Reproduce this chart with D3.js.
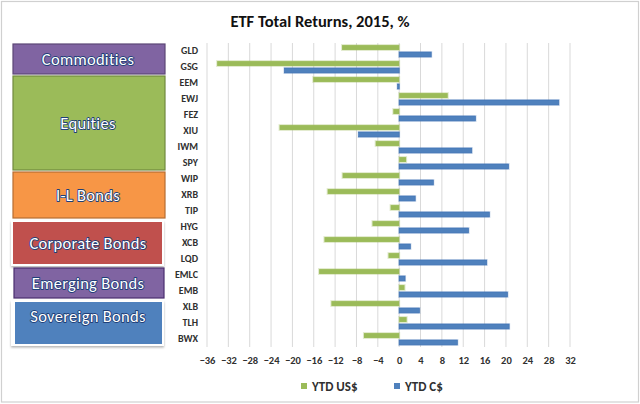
<!DOCTYPE html>
<html>
<head>
<meta charset="utf-8">
<script src="https://cdn.jsdelivr.net/npm/d3@7"></script>
<style>
  body { margin: 0; background: #fff; }
  svg { display: block; font-family: Carlito, Lato, "Open Sans", sans-serif; }
</style>
</head>
<body>
<div id="chart"></div>
<script>
// tickers top to bottom
var tickers = ['GLD','GSG','EEM','EWJ','FEZ','XIU','IWM','SPY','WIP','XRB','TIP',
               'HYG','XCB','LQD','EMLC','EMB','XLB','TLH','BWX'];
var ytdUS = [-10.7, -34.1, -16.1, 9.1, -1.1, -22.4, -4.4, 1.3, -10.6, -13.4, -1.6,
             -5.0, -14.0, -2.0, -15.0, 1.0, -12.7, 1.4, -6.6];
var ytdCA = [6.0, -21.5, -0.3, 29.9, 14.3, -7.6, 13.6, 20.5, 6.4, 3.0, 16.9,
             13.0, 2.1, 16.4, 1.1, 20.3, 3.8, 20.6, 10.9];
var seriesNames = ['YTD US$', 'YTD C$'];
var xTicks = d3.range(-36, 33, 4);

// asset class boxes on the left
var groupNames = ['Commodities','Equities','I-L Bonds','Corporate Bonds','Emerging Bonds','Sovereign Bonds'];
var groupFirst = ['GLD','EEM','WIP','HYG','EMLC','XLB'];
var groupLast  = ['GSG','SPY','TIP','LQD','EMB','BWX'];

var seriesColors = ['#9bbb59', '#4f81bd'];
var groupFill   = ['#8064a2','#9bbb59','#f79646','#c0504d','#8064a2','#4f81bd'];
var groupStroke = ['#5c4776','#71893f','#b66d31','#c0504d','#4a2d6e','#4f81bd'];
var groupFrame  = [false,false,false,true,false,true];

var width = 640, height = 404;

var svg = d3.select('#chart').append('svg')
  .attr('width', width)
  .attr('height', height);

var defs = svg.append('defs');
var shadow = defs.append('filter').attr('id', 'shadow')
  .attr('x', '-10%').attr('y', '-10%').attr('width', '120%').attr('height', '130%');
shadow.append('feDropShadow')
  .attr('dx', 0).attr('dy', 1.5).attr('stdDeviation', 1.2)
  .attr('flood-color', '#000').attr('flood-opacity', 0.3);

// outer border
svg.append('rect')
  .attr('x', 1.5).attr('y', 1.5)
  .attr('width', width - 3).attr('height', height - 3.5)
  .attr('fill', '#fff')
  .attr('stroke', '#d0d0d0')
  .attr('stroke-width', 1.2);

var x = d3.scaleLinear().domain([-36, 32]).range([207, 570]);
var y = d3.scaleBand().domain(tickers).range([43, 347]);
var y1 = d3.scaleBand().domain(seriesNames).range([0, y.bandwidth()])
  .paddingInner(0.3).paddingOuter(0.3);

// title
svg.append('text')
  .attr('x', 320).attr('y', 27)
  .attr('text-anchor', 'middle')
  .attr('font-size', 16.5)
  .attr('font-weight', 600)
  .attr('fill', '#111')
  .text('ETF Total Returns, 2015, %');

// gridlines
svg.append('g')
  .selectAll('line')
  .data(xTicks)
  .enter().append('line')
  .attr('x1', d => x(d)).attr('x2', d => x(d))
  .attr('y1', 43).attr('y2', 347)
  .attr('stroke', '#d9d9d9')
  .attr('stroke-width', 1);

// x axis labels
var xAxis = svg.append('g')
  .attr('transform', 'translate(0,' + 352 + ')')
  .call(d3.axisBottom(x).tickValues(xTicks).tickSize(0).tickPadding(5));
xAxis.select('.domain').remove();
xAxis.selectAll('text')
  .attr('font-family', 'Carlito, Lato, "Open Sans", sans-serif')
  .attr('font-size', 10.5)
  .attr('font-weight', 600)
  .attr('fill', '#303030');

// y axis labels
var yAxis = svg.append('g')
  .attr('transform', 'translate(198,0)')
  .call(d3.axisLeft(y).tickSize(0).tickPadding(0));
yAxis.select('.domain').remove();
yAxis.selectAll('text')
  .attr('font-family', 'Carlito, Lato, "Open Sans", sans-serif')
  .attr('font-size', 10)
  .attr('font-weight', 600)
  .attr('fill', '#303030');

// bars
var rows = tickers.map((t, i) => ({ ticker: t, values: [ytdUS[i], ytdCA[i]] }));

var rowG = svg.append('g')
  .selectAll('g')
  .data(rows)
  .enter().append('g')
  .attr('transform', d => 'translate(0,' + y(d.ticker) + ')');

rowG.selectAll('rect.glow')
  .data(d => d.values.map((v, k) => ({ v: v, k: k })))
  .enter().append('rect')
  .attr('class', 'glow')
  .attr('x', d => Math.min(x(0), x(d.v)) - 1)
  .attr('y', d => y1(seriesNames[d.k]) - 1)
  .attr('width', d => Math.abs(x(d.v) - x(0)) + 2)
  .attr('height', y1.bandwidth() + 2)
  .attr('fill', d => seriesColors[d.k])
  .attr('opacity', 0.3);

rowG.selectAll('rect.bar')
  .data(d => d.values.map((v, k) => ({ v: v, k: k })))
  .enter().append('rect')
  .attr('class', 'bar')
  .attr('x', d => Math.min(x(0), x(d.v)))
  .attr('y', d => y1(seriesNames[d.k]))
  .attr('width', d => Math.abs(x(d.v) - x(0)))
  .attr('height', y1.bandwidth())
  .attr('fill', d => seriesColors[d.k])
  .attr('stroke', d => d.k === 1 ? '#3a6db0' : 'none')
  .attr('stroke-width', 0.6);

// group boxes
groupNames.forEach((name, i) => {
  var top = y(groupFirst[i]) + 1;
  var bottom = y(groupLast[i]) + y.bandwidth() - 1;
  var bx = 13, bw = 152;
  if (groupFrame[i]) {
    svg.append('rect')
      .attr('x', bx - 2).attr('y', top + 0.5)
      .attr('width', bw + 1).attr('height', bottom - top - 0.5)
      .attr('fill', '#fff')
      .attr('filter', 'url(#shadow)');
    svg.append('rect')
      .attr('x', bx + (i === 5 ? 2 : 0)).attr('y', top + 2)
      .attr('width', bw - (i === 5 ? 5 : 3)).attr('height', bottom - top - 4)
      .attr('fill', groupFill[i]);
  } else {
    svg.append('rect')
      .attr('x', bx + (i === 4 ? 1 : 0)).attr('y', top)
      .attr('width', bw - (i === 4 ? 2 : 0)).attr('height', bottom - top)
      .attr('fill', groupFill[i])
      .attr('stroke', groupStroke[i])
      .attr('stroke-width', 1.2);
  }
  var cy = (top + bottom) / 2 + (i === 5 ? -7 : 0);
  svg.append('text')
    .attr('x', bx + bw / 2 - 1)
    .attr('y', cy)
    .attr('dy', '0.35em')
    .attr('text-anchor', 'middle')
    .attr('font-size', 16.5)
    .attr('letter-spacing', 0.3)
    .attr('fill', '#fff')
    .attr('stroke', '#1f3f78')
    .attr('stroke-width', 1.8)
    .attr('stroke-linejoin', 'round')
    .attr('paint-order', 'stroke')
    .text(name);
});

// legend
var legend = svg.append('g')
  .selectAll('g')
  .data(seriesNames)
  .enter().append('g')
  .attr('transform', (d, i) => 'translate(' + (i === 0 ? 301 : 394) + ',383)');
legend.append('rect')
  .attr('width', 6).attr('height', 6)
  .attr('fill', (d, i) => seriesColors[i]);
legend.append('text')
  .attr('x', 11).attr('y', 3)
  .attr('dy', '0.35em')
  .attr('font-size', 13)
  .attr('font-weight', 600)
  .attr('fill', '#303030')
  .text(d => d);
</script>
</body>
</html>
